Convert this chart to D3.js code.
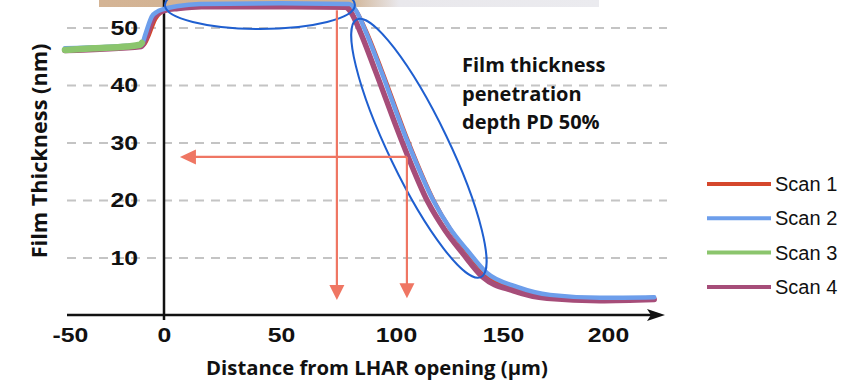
<!DOCTYPE html>
<html>
<head>
<meta charset="utf-8">
<script src="https://cdn.jsdelivr.net/npm/d3@7"></script>
<style>
  body { margin: 0; background: #fff; }
  svg { display: block; }
</style>
</head>
<body>
<div id="chart-area"></div>
<script>
// ---- data ----
var xTicks = [-50, 0, 50, 100, 150, 200];
var yTicks = [10, 20, 30, 40, 50];

var seriesNames = ["Scan 1", "Scan 2", "Scan 3", "Scan 4"];

var scan1 = [[-52.7,46.0],[-11,46.9],[-8.5,48.3],[-6.5,50.0],[-4.5,51.5],[-2,52.5],[1,53.0],[6,53.5],[16,53.8],[50,53.9],[79.8,53.8],[82.6,52.9],[87,49.4],[93.6,42.8],[105.7,30.2],[117.8,19.8],[125.6,14.8],[133.4,10.9],[142.6,6.9],[156.5,4.4],[172,3.1],[196,2.8],[222,3.0]];
var scan2 = [[-52.7,46.4],[-12,47.0],[-10,48.7],[-8.3,50.4],[-6.5,51.9],[-3.9,52.7],[-0.4,53.2],[5.4,53.7],[15.4,54.1],[50,54.2],[79.6,54.1],[82.2,53.2],[86.5,49.6],[93,43.0],[105.1,30.4],[117.3,20.0],[125.2,15.1],[133.2,11.3],[142.5,7.3],[156.7,4.9],[172.4,3.5],[196.2,3.0],[222,3.1]];
var scan3 = [[-52.7,46.1],[-37.6,46.4],[-19.8,46.7],[-12.8,47.0],[-11.8,47.3]];
var scan4 = [[-52.7,46.0],[-12,46.7],[-9.5,48.3],[-7.5,50.2],[-5.5,51.7],[-3,52.5],[0.5,53.0],[6,53.3],[16,53.6],[50,53.6],[78,53.5],[80.5,52.6],[84.5,49.2],[91,42.5],[103,30.0],[115,19.6],[123,14.7],[131,10.8],[140.5,6.6],[155,4.2],[171,2.9],[196,2.5],[222,2.7]];

// annotation anchors, in data units
var downArrows = [[74.3, 53.0, 2.6], [105.1, 27.5, 2.9]];   // x, from y, to y
var leftArrow = [105.1, 6.8, 27.5];                           // from x, to x, y
var noteLines = ["Film thickness", "penetration", "depth PD 50%"];

var svg = d3.select("#chart-area")
  .append("svg")
    .attr("width", 853)
    .attr("height", 381);

// the axis labels in the figure are not evenly spaced, so piecewise scale
var x = d3.scaleLinear()
  .domain(xTicks)
  .range([70, 164, 281, 396, 503, 608]);

var y = d3.scaleLinear()
  .domain([0, 50])
  .range([315, 27.5]);

// top image strip
var grad = svg.append("defs").append("linearGradient")
  .attr("id", "strip")
  .attr("x1", "0").attr("x2", "1");
grad.append("stop").attr("offset", "0").attr("stop-color", "#d4b495");
grad.append("stop").attr("offset", "0.5").attr("stop-color", "#d0b293");
grad.append("stop").attr("offset", "0.6").attr("stop-color", "#e9e8ec");
grad.append("stop").attr("offset", "1").attr("stop-color", "#ebebef");

svg.append("rect")
  .attr("x", 99).attr("y", 0)
  .attr("width", 500).attr("height", 7)
  .attr("fill", "url(#strip)");

// gridlines
var grid = svg.append("g")
  .attr("transform", "translate(67,0)")
  .call(d3.axisRight(y).tickValues(yTicks).tickSize(600).tickFormat(""));
grid.select(".domain").remove();
grid.selectAll("line")
  .attr("stroke", "#c4c4c4")
  .attr("stroke-width", 2)
  .attr("stroke-dasharray", "9,7");

// tick labels: arial bold, a bit stretched like the figure
function styleTicks(sel) {
  sel.selectAll("text")
    .attr("font-family", "Liberation Sans, Arial, sans-serif")
    .attr("font-weight", "bold")
    .attr("font-size", "21px")
    .attr("transform", "scale(1.18,1)")
    .attr("fill", "#111");
}

var yAxis = svg.append("g")
  .attr("transform", "translate(138,0)")
  .call(d3.axisLeft(y).tickValues(yTicks).tickSize(0).tickPadding(0)
    .tickFormat(function(d){ return String(d); }));
yAxis.select(".domain").remove();
styleTicks(yAxis);

var xAxis = svg.append("g")
  .attr("transform", "translate(0,315)")
  .call(d3.axisBottom(x).tickValues(xTicks).tickSize(0).tickPadding(12)
    .tickFormat(function(d){ return String(d); }));
xAxis.select(".domain").remove();
styleTicks(xAxis);

// axis lines
svg.append("line")
  .attr("x1", x(0)).attr("x2", x(0))
  .attr("y1", 0).attr("y2", y(0) + 5)
  .attr("stroke", "#111").attr("stroke-width", 2.5);

svg.append("line")
  .attr("x1", 67).attr("x2", 655)
  .attr("y1", y(0)).attr("y2", y(0))
  .attr("stroke", "#111").attr("stroke-width", 2.5);
svg.append("path")
  .attr("d", "M665," + y(0) + " L647," + (y(0) - 6) + " L651," + y(0) + " L647," + (y(0) + 6) + " Z")
  .attr("fill", "#111");

// axis titles
svg.append("text")
  .attr("x", 377)
  .attr("y", 375)
  .attr("text-anchor", "middle")
  .attr("font-family", "Open Sans, sans-serif")
  .attr("font-weight", "bold")
  .attr("font-size", "20.3px")
  .attr("fill", "#111")
  .text("Distance from LHAR opening (µm)");

svg.append("text")
  .attr("transform", "translate(47,151) rotate(-90)")
  .attr("text-anchor", "middle")
  .attr("font-family", "Open Sans, sans-serif")
  .attr("font-weight", "bold")
  .attr("font-size", "21.7px")
  .attr("fill", "#111")
  .text("Film Thickness (nm)");

// curves
var line = d3.line()
  .x(function(d){ return x(d[0]); })
  .y(function(d){ return y(d[1]); })
  .curve(d3.curveMonotoneX);

var scans = [
  { name: seriesNames[0], values: scan1, color: "#d5472c", width: 4 },
  { name: seriesNames[3], values: scan4, color: "#a64d79", width: 5.5 },
  { name: seriesNames[1], values: scan2, color: "#6d9eeb", width: 4.5 },
  { name: seriesNames[2], values: scan3, color: "#8bc56d", width: 6.5 }
];

svg.selectAll(".scan")
  .data(scans)
  .enter()
  .append("path")
    .attr("class", "scan")
    .attr("d", function(d){ return line(d.values); })
    .attr("fill", "none")
    .attr("stroke", function(d){ return d.color; })
    .attr("stroke-width", function(d){ return d.width; })
    .attr("stroke-linecap", "round")
    .attr("stroke-linejoin", "round");

// blue ellipses
svg.append("ellipse")
  .attr("cx", x(41)).attr("cy", y(53.9))
  .attr("rx", 95).attr("ry", 24)
  .attr("fill", "none")
  .attr("stroke", "#1f5fd0").attr("stroke-width", 2);

svg.append("ellipse")
  .attr("transform", "translate(" + x(110.7) + "," + y(29.0) + ") rotate(64.3)")
  .attr("rx", 143).attr("ry", 30)
  .attr("fill", "none")
  .attr("stroke", "#1f5fd0").attr("stroke-width", 2);

// salmon arrows
var arrowColor = "#ef7663";
downArrows.forEach(function(a){
  var ax = x(a[0]), tip = y(a[2]);
  svg.append("line")
    .attr("x1", ax).attr("x2", ax)
    .attr("y1", y(a[1])).attr("y2", tip - 10)
    .attr("stroke", arrowColor).attr("stroke-width", 2.2);
  svg.append("path")
    .attr("d", "M" + ax + "," + tip + " L" + (ax - 7.5) + "," + (tip - 15) + " L" + (ax + 7.5) + "," + (tip - 15) + " Z")
    .attr("fill", arrowColor);
});

var ly = y(leftArrow[2]), ltip = x(leftArrow[1]);
svg.append("line")
  .attr("x1", x(leftArrow[0])).attr("x2", ltip + 10)
  .attr("y1", ly).attr("y2", ly)
  .attr("stroke", arrowColor).attr("stroke-width", 2.2);
svg.append("path")
  .attr("d", "M" + ltip + "," + ly + " L" + (ltip + 16) + "," + (ly - 7.5) + " L" + (ltip + 16) + "," + (ly + 7.5) + " Z")
  .attr("fill", arrowColor);

// note text
svg.append("g").selectAll("text")
  .data(noteLines)
  .enter()
  .append("text")
    .attr("x", 462)
    .attr("y", function(d, i){ return 72 + i * 28.5; })
    .attr("font-family", "Open Sans, sans-serif")
    .attr("font-weight", "bold")
    .attr("font-size", "20px")
    .attr("fill", "#111")
    .text(function(d){ return d; });

// legend
var legendColors = ["#d5472c", "#6d9eeb", "#8bc56d", "#a64d79"];
var legend = svg.append("g").selectAll("g")
  .data(seriesNames)
  .enter()
  .append("g")
    .attr("transform", function(d, i){ return "translate(707," + (184 + i * 34.3) + ")"; });

legend.append("line")
  .attr("x1", 0).attr("x2", 64)
  .attr("stroke", function(d, i){ return legendColors[i]; })
  .attr("stroke-width", 4);

legend.append("text")
  .attr("x", 68)
  .attr("dy", "0.35em")
  .attr("font-family", "Liberation Sans, Arial, sans-serif")
  .attr("font-size", "20px")
  .attr("fill", "#111")
  .text(function(d){ return d; });
</script>
</body>
</html>
